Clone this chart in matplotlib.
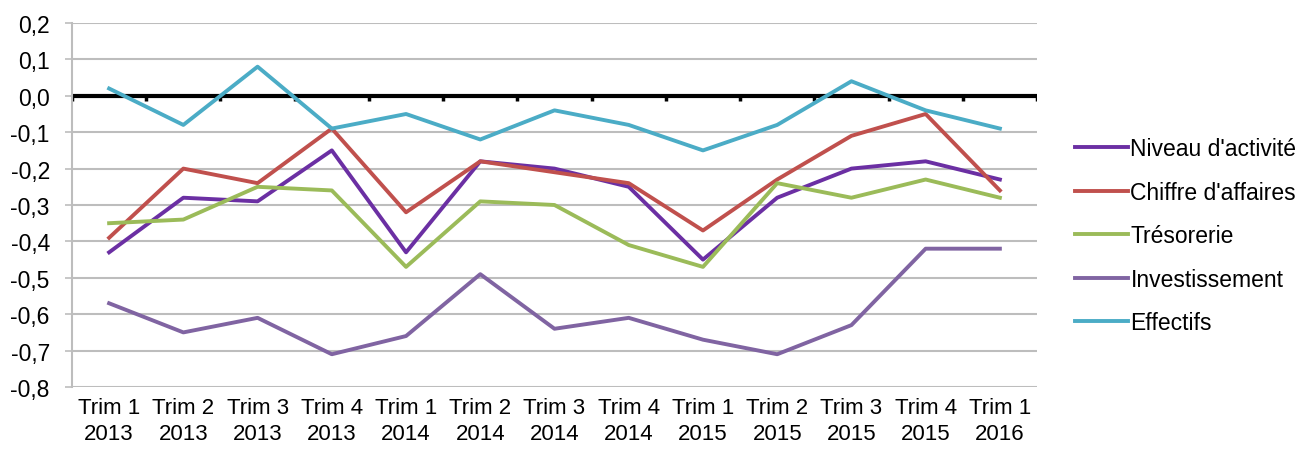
import numpy as np
import matplotlib
matplotlib.use('Agg')
import matplotlib.pyplot as plt

plt.rcParams['font.family'] = ['Liberation Sans', 'DejaVu Sans']

# Données
trimestres = ['Trim 1\n2013', 'Trim 2\n2013', 'Trim 3\n2013', 'Trim 4\n2013',
              'Trim 1\n2014', 'Trim 2\n2014', 'Trim 3\n2014', 'Trim 4\n2014',
              'Trim 1\n2015', 'Trim 2\n2015', 'Trim 3\n2015', 'Trim 4\n2015',
              'Trim 1\n2016']
niveau_activite = [-0.43, -0.28, -0.29, -0.15, -0.43, -0.18, -0.20, -0.25, -0.45, -0.28, -0.20, -0.18, -0.23]
chiffre_affaires = [-0.39, -0.20, -0.24, -0.09, -0.32, -0.18, -0.21, -0.24, -0.37, -0.23, -0.11, -0.05, -0.26]
tresorerie = [-0.35, -0.34, -0.25, -0.26, -0.47, -0.29, -0.30, -0.41, -0.47, -0.24, -0.28, -0.23, -0.28]
investissement = [-0.57, -0.65, -0.61, -0.71, -0.66, -0.49, -0.64, -0.61, -0.67, -0.71, -0.63, -0.42, -0.42]
effectifs = [0.02, -0.08, 0.08, -0.09, -0.05, -0.12, -0.04, -0.08, -0.15, -0.08, 0.04, -0.04, -0.09]
y_ticks = [0.2, 0.1, 0.0, -0.1, -0.2, -0.3, -0.4, -0.5, -0.6, -0.7, -0.8]

series = [
    ("Niveau d'activité", niveau_activite, '#6B2FA3'),
    ("Chiffre d'affaires", chiffre_affaires, '#C0504D'),
    ('Trésorerie', tresorerie, '#9BBB59'),
    ('Investissement', investissement, '#8064A2'),
    ('Effectifs', effectifs, '#4BACC6'),
]

fig = plt.figure(figsize=(13.14, 4.56), dpi=100)
ax = fig.add_axes([72 / 1314, 1 - 388 / 456, (1037 - 72) / 1314, (388 - 24) / 456])

x = np.arange(len(trimestres))
ax.set_xlim(-0.5, len(trimestres) - 0.5)
ax.set_ylim(-0.8, 0.2)

# quadrillage horizontal
ax.set_yticks(y_ticks)
ax.set_yticklabels([f'{v:.1f}'.replace('.', ',') for v in y_ticks], fontsize=16.5)
ax.yaxis.grid(True, color='#BDBDBD', lw=1.5)
ax.set_axisbelow(True)
ax.tick_params(axis='y', length=5, color='#BDBDBD', width=1.2, pad=11)

ax.set_xticks(x)
ax.set_xticklabels(trimestres, fontsize=16, linespacing=1.3)
ax.tick_params(axis='x', length=0, pad=7)

for s in ['top', 'right', 'bottom']:
    ax.spines[s].set_visible(False)
ax.spines['left'].set_color('#BDBDBD')
ax.spines['left'].set_linewidth(1.5)

for nom, vals, couleur in series:
    ax.plot(x, vals, color=couleur, lw=2.8, label=nom, zorder=3)

# axe zéro noir avec graduations entre les catégories
ax.axhline(0, color='black', lw=3, zorder=2)
ax.vlines(np.arange(-0.5, len(trimestres)), -0.014, 0, color='black', lw=2.5, zorder=2)

leg = fig.legend(loc='upper left', bbox_to_anchor=(1075 / 1314, 1 - 138 / 456),
                 frameon=False, fontsize=16.5, handlelength=2.3, handletextpad=0.12,
                 labelspacing=0.9, borderaxespad=0, borderpad=0)

fig.savefig('out.png', dpi=100)
